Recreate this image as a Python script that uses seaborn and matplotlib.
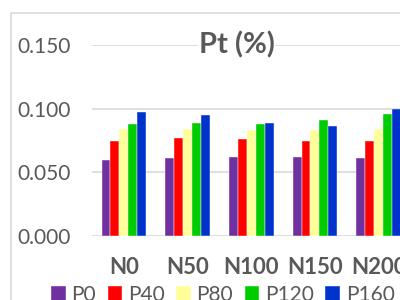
import numpy as np
import pandas as pd
import matplotlib
matplotlib.use('Agg')
import matplotlib.pyplot as plt
import seaborn as sns
from matplotlib.patches import Rectangle

# Data
categories = ['N0', 'N50', 'N100', 'N150', 'N200']
series = ['P0', 'P40', 'P80', 'P120', 'P160']
p0 = [0.060, 0.061, 0.062, 0.062, 0.061]
p40 = [0.075, 0.077, 0.076, 0.075, 0.075]
p80 = [0.084, 0.084, 0.083, 0.083, 0.084]
p120 = [0.088, 0.089, 0.088, 0.091, 0.096]
p160 = [0.097, 0.095, 0.089, 0.086, 0.100]
colors = ['#7030A0', '#FF0000', '#FFFF99', '#00CC00', '#0033CC']

rows = []
for name, vals in zip(series, [p0, p40, p80, p120, p160]):
    for cat, v in zip(categories, vals):
        rows.append({'N': cat, 'P': name, 'Pt': v})
df = pd.DataFrame(rows)

sns.set_style('white')
plt.rcParams['font.family'] = ['Lato', 'DejaVu Sans']
grey = '#595959'

fig = plt.figure(figsize=(4, 3), dpi=100)
# outer chart border (cropped on the right and bottom)
fig.patches.append(Rectangle((11 / 400, -0.1), 1.2, (300 - 13) / 300 + 0.1,
                             transform=fig.transFigure, fill=False,
                             edgecolor='#D9D9D9', linewidth=1.2))

ax = fig.add_axes([92 / 400, 64 / 300, 318.5 / 400, 191 / 300])
sns.barplot(data=df, x='N', y='Pt', hue='P', palette=colors, width=0.7,
            gap=0, saturation=1, edgecolor='white', linewidth=0.3, ax=ax,
            legend=True)

ax.set_ylim(0, 0.15)
ax.set_yticks([0, 0.05, 0.10, 0.15])
ax.set_yticklabels(['0.000', '0.050', '0.100', '0.150'])
ax.yaxis.grid(True, color='#D9D9D9', linewidth=1.2)
ax.set_axisbelow(True)
for s in ax.spines.values():
    s.set_visible(False)
ax.set_xlabel('')
ax.set_ylabel('')
ax.tick_params(axis='y', labelsize=15, colors=grey, length=0, pad=15)
ax.tick_params(axis='x', labelsize=16, colors=grey, length=0, pad=15)
for t in ax.get_xticklabels():
    t.set_fontweight('bold')

ax.text(0.455, 1.0, 'Pt (%)', transform=ax.transAxes, ha='center', va='center',
        fontsize=21, fontweight='bold', color=grey,
        bbox=dict(facecolor='white', edgecolor='none', pad=0.5))

handles, labels = ax.get_legend_handles_labels()
ax.get_legend().remove()
fig.legend(handles, labels, loc='center left', bbox_to_anchor=(51 / 400, 5 / 300),
           ncol=5, frameon=False, fontsize=15, labelcolor=grey,
           handlelength=0.7, handleheight=0.7, handletextpad=0.28,
           columnspacing=0.55, borderpad=0, borderaxespad=0)

fig.savefig('out.png', dpi=100)
